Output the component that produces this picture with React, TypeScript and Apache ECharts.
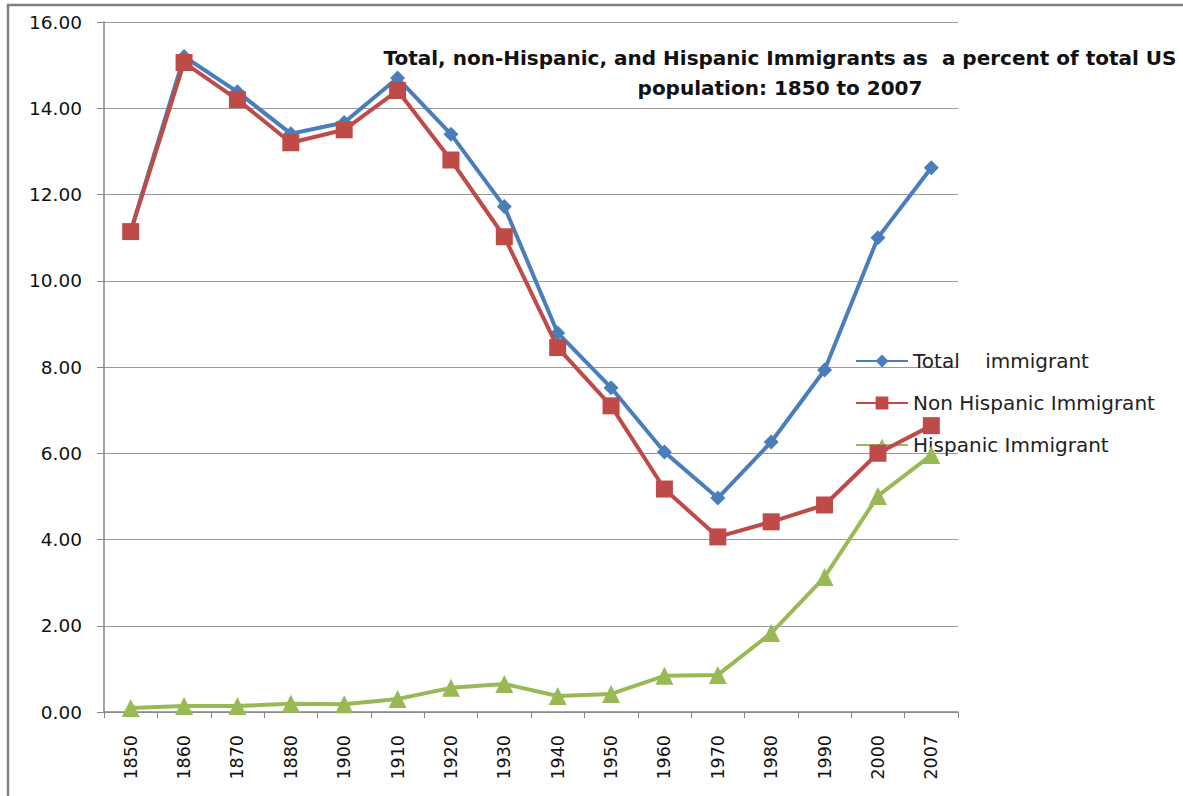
import React, { useEffect, useRef } from "react";
import * as echarts from "echarts";

const years = ["1850", "1860", "1870", "1880", "1900", "1910", "1920", "1930", "1940", "1950", "1960", "1970", "1980", "1990", "2000", "2007"];
const totalImmigrant = [11.15, 15.2, 14.38, 13.41, 13.67, 14.7, 13.4, 11.72, 8.79, 7.52, 6.03, 4.96, 6.26, 7.93, 11.0, 12.62];
const nonHispanic = [11.14, 15.06, 14.2, 13.2, 13.5, 14.41, 12.8, 11.02, 8.45, 7.1, 5.17, 4.06, 4.41, 4.8, 6.0, 6.64];
const hispanic = [0.09, 0.14, 0.14, 0.19, 0.18, 0.3, 0.56, 0.65, 0.37, 0.42, 0.84, 0.86, 1.83, 3.13, 5.01, 5.96];
const yTicks = { min: 0, max: 16, interval: 2 };
const titleLines = ["Total, non-Hispanic, and Hispanic Immigrants as  a percent of total US", "population: 1850 to 2007"];
const seriesNames = ["Total    immigrant", "Non Hispanic Immigrant", "Hispanic Immigrant"];

export default function App() {
  const ref = useRef<HTMLDivElement>(null);
  useEffect(() => {
    if (!ref.current) return;
    const chart = echarts.init(ref.current, null, { renderer: "svg" });
    const lineSeries = (name: string, data: number[], color: string, symbol: string, size: number, z: number) => ({
      name,
      type: "line",
      data,
      symbol,
      symbolSize: size,
      z,
      lineStyle: { color, width: 4 },
      itemStyle: { color },
    });
    chart.setOption({
      animation: false,
      backgroundColor: "#ffffff",
      grid: { left: 104, right: 225, top: 22, bottom: 84, containLabel: false },
      title: {
        text: titleLines.join("\n"),
        left: 775,
        top: 38,
        textAlign: "center",
        textStyle: { fontFamily: "DejaVu Sans", fontWeight: "bold", fontSize: 20, lineHeight: 30, color: "#111", align: "center" },
      },
      legend: {
        orient: "vertical",
        left: 850,
        top: 346,
        itemWidth: 52,
        itemHeight: 16,
        itemGap: 22,
        textStyle: { fontFamily: "DejaVu Sans", fontSize: 20, color: "#222" },
        data: seriesNames,
      },
      xAxis: {
        type: "category",
        data: years,
        boundaryGap: true,
        axisLine: { lineStyle: { color: "#868686", width: 1.5 } },
        axisTick: { show: true, length: 6, lineStyle: { color: "#868686" } },
        axisLabel: { rotate: 90, margin: 23, fontFamily: "DejaVu Sans", fontSize: 17.5, color: "#111" },
      },
      yAxis: {
        type: "value",
        min: yTicks.min,
        max: yTicks.max,
        interval: yTicks.interval,
        axisLine: { show: true, lineStyle: { color: "#868686", width: 1.5 } },
        axisTick: { show: true, length: 7, lineStyle: { color: "#868686" } },
        axisLabel: { margin: 22, fontFamily: "DejaVu Sans", fontSize: 18.5, color: "#111", formatter: (v: number) => v.toFixed(2) },
        splitLine: { show: true, lineStyle: { color: "#9a9a9a", width: 1 } },
      },
      graphic: [
        { type: "rect", shape: { x: 8, y: 5, width: 1300, height: 900 }, style: { fill: "none", stroke: "#808080", lineWidth: 2.5 }, silent: true },
      ],
      series: [
        lineSeries(seriesNames[0], totalImmigrant, "#4A7EBB", "diamond", 15, 3),
        lineSeries(seriesNames[1], nonHispanic, "#BE4B48", "rect", 17, 4),
        lineSeries(seriesNames[2], hispanic, "#98B954", "triangle", 18, 5),
      ],
    });
    return () => chart.dispose();
  }, []);
  return <div ref={ref} style={{ position: "fixed", left: 0, top: 0, width: 1183, height: 796 }} />;
}
